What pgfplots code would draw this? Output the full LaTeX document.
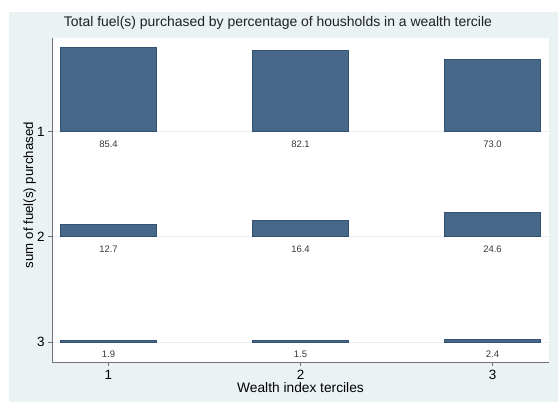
\documentclass[border=0pt]{standalone}
\usepackage{fontspec}
\setmainfont{Liberation Sans}
\usepackage{pgfplots}
\pgfplotsset{compat=1.18}
\definecolor{bgc}{RGB}{234,242,243}
\definecolor{gridc}{RGB}{232,240,242}
\definecolor{barc}{RGB}{71,104,137}
\definecolor{bard}{RGB}{52,82,112}
\definecolor{axc}{RGB}{115,115,115}
\definecolor{valc}{RGB}{55,55,55}
\pgfplotsset{
  rowaxis/.style={
    at={(52bp,39.7bp)}, anchor=south west,
    scale only axis, width=497bp, height=324.6bp,
    xmin=0.706, xmax=3.294,
  },
  barstyle/.style={ybar, bar width=96bp, fill=barc, draw=bard, line width=0.5bp},
  valstyle/.style={draw=none, mark=none, nodes near coords, point meta=explicit symbolic,
    every node near coord/.append style={anchor=center, yshift=-12.5bp,
      font=\fontsize{9.5}{11}\selectfont, text=valc}},
}
\begin{document}
\begin{tikzpicture}[x=1bp,y=1bp]
\fill[white] (0,0) rectangle (558,402);
\fill[bgc] (9,0) rectangle (558,390);
% Row 1 axis: carries the frame, ticks and labels
\begin{axis}[rowaxis,
  ymin=-234.3, ymax=95.2,
  axis background/.style={fill=white},
  axis lines*=left,
  axis line style={draw=axc, line width=1bp},
  tick align=outside, major tick length=4bp,
  tick style={draw=axc, line width=0.8bp},
  xtick={1,2,3}, xticklabels={1,2,3},
  ytick={0,-106.8,-213.7}, yticklabels={1,2,3},
  ymajorgrids, grid style={draw=gridc, line width=0.8bp},
  /pgf/number format/assume math mode=true,
  tick label style={font=\fontsize{13.5}{15}\selectfont, text=black},
  xlabel={Wealth index terciles},
  ylabel={sum of fuel(s) purchased},
  xlabel style={at={(axis description cs:0.5,-0.0943)}, anchor=base, font=\fontsize{13.8}{16}\selectfont},
  ylabel style={at={(axis description cs:-0.038,0.515)}, anchor=base, font=\fontsize{13.3}{16}\selectfont},
  title={Total fuel(s) purchased by percentage of housholds in a wealth tercile},
  title style={at={(axis description cs:0.4547,1.0163)}, anchor=base, font=\fontsize{14}{16}\selectfont, text=black!88},
]
\addplot[barstyle] coordinates {(1,85.4) (2,82.1) (3,73.0)};
\addplot[valstyle] coordinates {(1,0)[85.4] (2,0)[82.1] (3,0)[73.0]};
\end{axis}
% Row 2 axis
\begin{axis}[rowaxis, hide axis, ymin=-127.5, ymax=202.0]
\addplot[barstyle] coordinates {(1,12.7) (2,16.4) (3,24.6)};
\addplot[valstyle] coordinates {(1,0)[12.7] (2,0)[16.4] (3,0)[24.6]};
\end{axis}
% Row 3 axis
\begin{axis}[rowaxis, hide axis, ymin=-20.6, ymax=308.9]
\addplot[barstyle] coordinates {(1,1.9) (2,1.5) (3,2.4)};
\addplot[valstyle] coordinates {(1,0)[1.9] (2,0)[1.5] (3,0)[2.4]};
\end{axis}
\end{tikzpicture}
\end{document}
